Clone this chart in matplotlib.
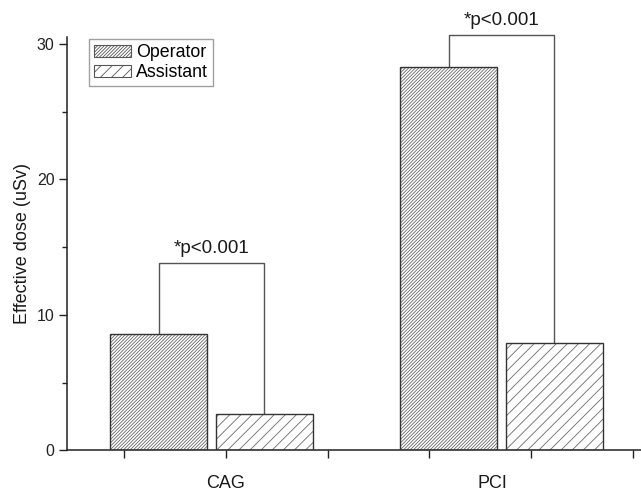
import matplotlib
matplotlib.use("Agg")
import matplotlib.pyplot as plt
from matplotlib.patches import Patch
from matplotlib.ticker import MultipleLocator

# dose values (uSv) per procedure
categories = ["CAG", "PCI"]
operator = [8.58, 28.3]
assistant = [2.67, 7.96]
bracket_levels = [13.84, 30.66]
p_labels = ["*p<0.001", "*p<0.001"]

plt.rcParams["font.family"] = ["Liberation Sans", "DejaVu Sans"]
plt.rcParams["hatch.linewidth"] = 0.6

fig = plt.figure(figsize=(6.41, 4.91), dpi=100)
ax = fig.add_axes([0.1045, 0.0825, 0.8955, 0.842])

group_x = [1.86, 4.71]
label_x = [2.0, 4.62]
width = 0.95
off = 0.52
edge = "#333333"
hatch_col = "#6a6a6a"
hatch_op = "//////////"
hatch_as = "///"

for i, cat in enumerate(categories):
    xo = group_x[i] - off
    xa = group_x[i] + off
    # hatched fill, then a separate outline so hatch stays lighter than the edge
    ax.bar(xo, operator[i], width, color="white", edgecolor=hatch_col,
           hatch=hatch_op, linewidth=0, zorder=2)
    ax.bar(xa, assistant[i], width, color="white", edgecolor=hatch_col,
           hatch=hatch_as, linewidth=0, zorder=2)
    ax.bar([xo, xa], [operator[i], assistant[i]], width, fill=False,
           edgecolor=edge, linewidth=1.0, zorder=3)

    # significance bracket
    lvl = bracket_levels[i]
    ax.plot([xo, xo, xa, xa], [operator[i], lvl, lvl, assistant[i]],
            color="#555555", linewidth=1.0, clip_on=False, zorder=1)
    ax.text((xo + xa) / 2, lvl + 0.4, p_labels[i], ha="center", va="bottom",
            fontsize=13.5, color="#1a1a1a", clip_on=False)

    ax.text(label_x[i], -2.4, cat, ha="center", va="center",
            fontsize=13, color="#1a1a1a")

ax.set_xlim(0.44, 6.08)
ax.set_ylim(0, 30.5)
ax.set_xticks([1, 2, 3, 4, 5, 6])
ax.set_xticklabels([])
ax.yaxis.set_major_locator(MultipleLocator(10))
ax.yaxis.set_minor_locator(MultipleLocator(5))

for side in ["top", "right"]:
    ax.spines[side].set_visible(False)
for side in ["left", "bottom"]:
    ax.spines[side].set_color("#222222")
    ax.spines[side].set_linewidth(1.1)

ax.tick_params(axis="y", which="major", direction="out", length=6, width=1,
               labelsize=11.5, colors="#222222", pad=3)
ax.tick_params(axis="y", which="minor", direction="out", length=3.5, width=1,
               colors="#222222")
ax.tick_params(axis="x", which="major", direction="out", length=6, width=1,
               colors="#222222")

ax.set_ylabel("Effective dose (uSv)", fontsize=13, color="#1a1a1a", labelpad=4)

handles = [
    Patch(facecolor="white", edgecolor="#555555", hatch=hatch_op, linewidth=0.8),
    Patch(facecolor="white", edgecolor="#555555", hatch=hatch_as, linewidth=0.8),
]
leg = ax.legend(handles, ["Operator", "Assistant"], loc="upper left",
                bbox_to_anchor=(0.038, 0.995), fontsize=12.8, frameon=True,
                fancybox=False, edgecolor="#888888", handlelength=2.1,
                handleheight=0.7, handletextpad=0.25, borderpad=0.3,
                labelspacing=0.15, borderaxespad=0.0)
leg.get_frame().set_linewidth(1.0)

fig.savefig("out.png", dpi=100, facecolor="white")
